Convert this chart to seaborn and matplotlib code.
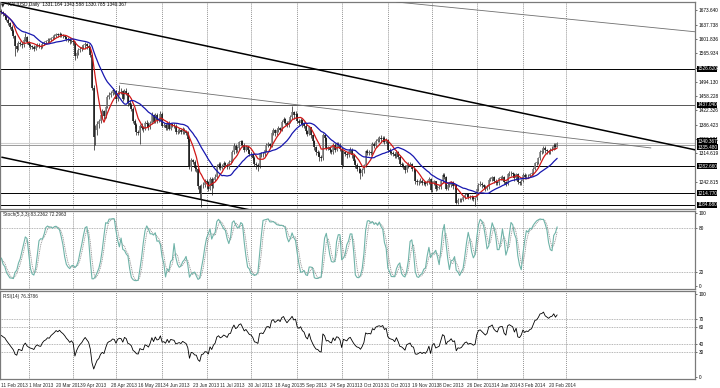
import numpy as np
import pandas as pd
import matplotlib
matplotlib.use("Agg")
import matplotlib.pyplot as plt
import matplotlib.transforms as mtransforms
import seaborn as sns

# ==========================
# Data (XAUUSD daily bars)
# ==========================

first_open = 1672

close = [1669, 1664, 1660, 1650, 1641, 1632, 1622, 1610, 1585, 1578, 1593, 1590,
         1586, 1600, 1606, 1594, 1588, 1584, 1582, 1578, 1585, 1588, 1584, 1583,
         1590, 1594, 1596, 1600, 1599, 1604, 1607, 1610, 1614, 1612, 1615, 1612,
         1610, 1607, 1603, 1600, 1596, 1598, 1594, 1560, 1568, 1574, 1578, 1581,
         1586, 1590, 1585, 1580, 1562, 1478, 1355, 1372, 1388, 1395, 1412, 1420,
         1408, 1432, 1455, 1462, 1465, 1474, 1472, 1450, 1467, 1472, 1470, 1452,
         1472, 1466, 1440, 1436, 1426, 1395, 1385, 1368, 1366, 1384, 1378, 1376,
         1392, 1388, 1380, 1392, 1412, 1394, 1412, 1398, 1400, 1414, 1384, 1386,
         1378, 1392, 1376, 1388, 1386, 1384, 1368, 1370, 1372, 1368, 1374, 1370,
         1366, 1350, 1280, 1298, 1294, 1278, 1276, 1232, 1212, 1234, 1236, 1244,
         1242, 1226, 1250, 1232, 1248, 1256, 1282, 1288, 1278, 1282, 1290, 1286,
         1280, 1294, 1296, 1318, 1334, 1322, 1328, 1342, 1346, 1336, 1324, 1330,
         1322, 1314, 1312, 1304, 1288, 1286, 1282, 1312, 1314, 1312, 1322, 1336,
         1338, 1334, 1366, 1372, 1365, 1372, 1378, 1374, 1394, 1400, 1392, 1386,
         1396, 1405, 1418, 1410, 1414, 1396, 1392, 1398, 1388, 1384, 1370, 1364,
         1380, 1360, 1345, 1330, 1318, 1316, 1306, 1302, 1360, 1352, 1328, 1330,
         1322, 1318, 1336, 1324, 1338, 1336, 1326, 1286, 1318, 1314, 1310, 1320,
         1324, 1310, 1296, 1284, 1276, 1274, 1264, 1272, 1284, 1320, 1316, 1318,
         1316, 1338, 1334, 1346, 1350, 1352, 1350, 1354, 1344, 1348, 1324, 1318,
         1316, 1314, 1308, 1318, 1306, 1288, 1286, 1280, 1272, 1284, 1286, 1288,
         1276, 1274, 1244, 1242, 1244, 1246, 1240, 1242, 1238, 1242, 1250, 1222,
         1240, 1244, 1226, 1228, 1230, 1244, 1260, 1256, 1226, 1234, 1236, 1242,
         1232, 1234, 1190, 1198, 1196, 1198, 1204, 1210, 1212, 1204, 1206, 1204,
         1200, 1202, 1224, 1236, 1238, 1234, 1230, 1226, 1230, 1248, 1250, 1254,
         1246, 1242, 1240, 1252, 1254, 1254, 1242, 1238, 1262, 1266, 1264, 1262,
         1252, 1262, 1242, 1240, 1246, 1260, 1254, 1258, 1257, 1262, 1264, 1276,
         1290, 1292, 1302, 1318, 1320, 1328, 1322, 1320, 1318, 1324, 1326, 1336,
         1331.164, 1340.367]

high = [1677, 1672, 1668, 1663, 1654, 1645, 1636, 1626, 1613, 1592, 1598, 1597,
        1594, 1604, 1618, 1609, 1598, 1592, 1588, 1586, 1589, 1592, 1591, 1588,
        1594, 1598, 1600, 1604, 1605, 1608, 1611, 1614, 1618, 1617, 1620, 1618,
        1615, 1613, 1610, 1606, 1604, 1603, 1601, 1596, 1573, 1580, 1583, 1587,
        1590, 1594, 1593, 1590, 1584, 1565, 1486, 1386, 1396, 1402, 1421, 1426,
        1424, 1436, 1460, 1469, 1470, 1478, 1477, 1474, 1470, 1487, 1478, 1473,
        1476, 1478, 1469, 1448, 1440, 1430, 1400, 1390, 1372, 1388, 1392, 1384,
        1396, 1398, 1394, 1396, 1418, 1414, 1416, 1416, 1404, 1420, 1418, 1392,
        1390, 1396, 1395, 1392, 1392, 1390, 1388, 1376, 1378, 1376, 1380, 1378,
        1374, 1370, 1352, 1302, 1300, 1298, 1286, 1280, 1236, 1238, 1242, 1250,
        1250, 1246, 1256, 1254, 1252, 1262, 1288, 1294, 1292, 1288, 1296, 1294,
        1290, 1298, 1300, 1322, 1340, 1338, 1334, 1346, 1348, 1348, 1340, 1336,
        1334, 1326, 1318, 1316, 1308, 1292, 1290, 1316, 1318, 1318, 1326, 1340,
        1342, 1340, 1370, 1378, 1376, 1377, 1384, 1382, 1398, 1406, 1404, 1396,
        1400, 1412, 1434, 1422, 1420, 1416, 1400, 1404, 1402, 1394, 1388, 1374,
        1384, 1382, 1364, 1348, 1334, 1322, 1320, 1310, 1366, 1364, 1356, 1334,
        1334, 1326, 1340, 1340, 1342, 1342, 1340, 1330, 1322, 1320, 1318, 1326,
        1330, 1328, 1314, 1300, 1290, 1282, 1278, 1278, 1288, 1324, 1326, 1322,
        1322, 1342, 1344, 1350, 1356, 1358, 1361, 1358, 1358, 1352, 1350, 1328,
        1322, 1320, 1318, 1322, 1320, 1310, 1292, 1290, 1284, 1288, 1292, 1294,
        1290, 1280, 1276, 1250, 1248, 1252, 1250, 1246, 1246, 1248, 1256, 1252,
        1244, 1248, 1246, 1234, 1234, 1248, 1264, 1266, 1258, 1240, 1240, 1246,
        1246, 1238, 1238, 1202, 1202, 1202, 1208, 1214, 1216, 1216, 1210, 1210,
        1208, 1206, 1228, 1240, 1244, 1242, 1238, 1234, 1236, 1252, 1256, 1258,
        1258, 1250, 1246, 1256, 1258, 1260, 1258, 1246, 1266, 1270, 1270, 1268,
        1266, 1266, 1264, 1246, 1250, 1264, 1264, 1262, 1262, 1266, 1268, 1280,
        1294, 1296, 1306, 1322, 1326, 1332, 1334, 1326, 1324, 1328, 1332, 1340,
        1340, 1343.588]

low = [1664, 1660, 1655, 1646, 1636, 1628, 1616, 1604, 1558, 1570, 1575, 1585,
       1580, 1583, 1596, 1590, 1582, 1578, 1576, 1572, 1575, 1581, 1579, 1578,
       1580, 1586, 1590, 1592, 1594, 1596, 1600, 1603, 1606, 1607, 1608, 1606,
       1604, 1601, 1598, 1594, 1590, 1592, 1588, 1548, 1553, 1563, 1570, 1572,
       1576, 1580, 1578, 1574, 1556, 1474, 1322, 1335, 1360, 1378, 1390, 1404,
       1400, 1404, 1428, 1450, 1456, 1460, 1464, 1442, 1446, 1462, 1464, 1446,
       1450, 1460, 1434, 1430, 1420, 1390, 1378, 1360, 1360, 1338, 1372, 1368,
       1372, 1382, 1374, 1376, 1388, 1390, 1390, 1392, 1394, 1396, 1380, 1380,
       1372, 1374, 1372, 1372, 1380, 1378, 1362, 1364, 1366, 1362, 1364, 1364,
       1360, 1342, 1274, 1270, 1288, 1270, 1268, 1224, 1200, 1180, 1228, 1230,
       1236, 1220, 1222, 1210, 1228, 1244, 1252, 1276, 1272, 1274, 1278, 1280,
       1276, 1276, 1288, 1292, 1314, 1316, 1318, 1324, 1336, 1330, 1318, 1320,
       1316, 1308, 1306, 1298, 1282, 1276, 1270, 1278, 1306, 1306, 1308, 1318,
       1330, 1328, 1330, 1360, 1358, 1360, 1368, 1368, 1370, 1390, 1386, 1380,
       1382, 1392, 1400, 1402, 1406, 1390, 1386, 1388, 1382, 1378, 1364, 1358,
       1360, 1354, 1340, 1324, 1310, 1308, 1296, 1296, 1298, 1346, 1322, 1322,
       1316, 1312, 1314, 1318, 1320, 1330, 1320, 1278, 1282, 1308, 1304, 1306,
       1316, 1304, 1290, 1278, 1270, 1266, 1251, 1258, 1266, 1280, 1310, 1310,
       1310, 1312, 1328, 1330, 1342, 1344, 1344, 1344, 1338, 1340, 1318, 1312,
       1310, 1308, 1302, 1304, 1300, 1282, 1280, 1274, 1266, 1268, 1278, 1282,
       1270, 1268, 1238, 1236, 1236, 1240, 1234, 1236, 1232, 1234, 1238, 1218,
       1218, 1234, 1220, 1222, 1224, 1226, 1240, 1250, 1222, 1222, 1230, 1230,
       1226, 1226, 1186, 1186, 1192, 1192, 1194, 1200, 1206, 1200, 1200, 1198,
       1194, 1182, 1198, 1220, 1232, 1228, 1224, 1220, 1222, 1226, 1244, 1246,
       1240, 1236, 1234, 1236, 1248, 1248, 1238, 1232, 1234, 1258, 1258, 1256,
       1246, 1248, 1238, 1234, 1236, 1242, 1250, 1250, 1252, 1254, 1258, 1260,
       1272, 1284, 1288, 1298, 1312, 1316, 1316, 1314, 1312, 1314, 1320, 1322,
       1326, 1330.785]

date_labels = ["11 Feb 2013", "1 Mar 2013", "20 Mar 2013", "9 Apr 2013", "28 Apr 2013",
               "16 May 2013", "4 Jun 2013", "23 Jun 2013", "11 Jul 2013", "30 Jul 2013",
               "18 Aug 2013", "5 Sep 2013", "24 Sep 2013", "13 Oct 2013", "31 Oct 2013",
               "19 Nov 2013", "8 Dec 2013", "26 Dec 2013", "14 Jan 2014", "3 Feb 2014",
               "20 Feb 2014"]
date_every = 16

# first bar of each month (period separators)
month_starts = [16, 42, 67, 94, 120, 146, 173, 199, 226, 252, 278, 305, 330]

price_ticks = ["1673.640", "1637.738", "1601.836", "1565.934", "1530.032", "1494.130",
               "1458.228", "1422.326", "1386.423", "1350.521", "1314.619", "1242.815"]

# horizontal lines drawn on the chart, with their price boxes
h_levels = [1526.62, 1437.04, 1335.48, 1282.66, 1214.77, 1184.68]
h_colors = ["black", "#555555", "#9a9a9a", "black", "black", "black"]

# trend lines as (bar, price) end points
trend_upper = [(0, 1694), (406, 1323)]
trend_lower = [(0, 1305), (150, 1168)]
trend_thin = [(69, 1491), (380, 1328)]
trend_top = [(231, 1695), (406, 1620)]

# ==========================
# Indicators
# ==========================

df = pd.DataFrame({"close": close, "high": high, "low": low})
df["open"] = [first_open] + close[:-1]
df["high"] = df[["high", "open", "close"]].max(axis=1)
df["low"] = df[["low", "open", "close"]].min(axis=1)
df["bar"] = np.arange(len(df))

df["ma_fast"] = df["close"].rolling(7, min_periods=1).mean()
df["ma_slow"] = df["close"].rolling(20, min_periods=1).mean()

hh = df["high"].rolling(5, min_periods=1).max()
ll = df["low"].rolling(5, min_periods=1).min()
df["stoch"] = 100 * (df["close"] - ll).rolling(3, min_periods=1).sum() / \
    (hh - ll).rolling(3, min_periods=1).sum()
df["stoch_sig"] = df["stoch"].rolling(3, min_periods=1).mean()

# Wilder RSI, started from a neutral average move
diff = df["close"].diff().fillna(0).to_numpy()
avg_gain, avg_loss = 6.0, 6.0
rsi = []
for d in diff:
    avg_gain = (avg_gain * 13 + max(d, 0)) / 14
    avg_loss = (avg_loss * 13 + max(-d, 0)) / 14
    rsi.append(100 - 100 / (1 + avg_gain / avg_loss))
df["rsi"] = rsi

# ==========================
# Figure
# ==========================

sns.set_style("white")
plt.rcParams["font.family"] = ["Liberation Sans", "DejaVu Sans"]

fig = plt.figure(figsize=(7.2, 3.88), dpi=100)
W, H = 720.0, 388.0

def panel(top, bottom):
    return fig.add_axes([0, 1 - bottom / H, 695 / W, (bottom - top) / H])

ax = panel(2, 209)
ax_st = panel(211, 289)
ax_rsi = panel(291, 379)

fs = 3.4
xlim = (-0.8, 405.6)

for a in (ax, ax_st, ax_rsi):
    a.set_xlim(*xlim)
    for s in a.spines.values():
        s.set_color("#7a7a7a")
        s.set_linewidth(0.9)
    a.yaxis.tick_right()
    a.tick_params(axis="y", length=1.5, width=0.4, labelsize=fs, pad=1, colors="black")
    a.tick_params(axis="x", length=0)
    a.set_xticks([])
    for m in month_starts:
        a.axvline(m, color="#555555", lw=0.5, ls=(0, (1.2, 1.6)), zorder=1)

# main price panel
ax.set_ylim(1174.6, 1695.0)
ax.set_yticks([float(t) for t in price_ticks])
ax.set_yticklabels(price_ticks)

for lvl, col in zip(h_levels, h_colors):
    ax.axhline(lvl, color=col, lw=0.7, zorder=2)
ax.axhline(close[-1], color="#cfcfcf", lw=0.8, zorder=2)

for pts, col, lw in [(trend_upper, "black", 1.1), (trend_lower, "black", 1.1),
                     (trend_thin, "#6f6f6f", 0.6), (trend_top, "#6f6f6f", 0.6)]:
    (x0, y0), (x1, y1) = pts
    ax.plot([x0, x1], [y0, y1], color=col, lw=lw, zorder=3, solid_capstyle="butt")

up = df["close"] >= df["open"]
ax.vlines(df["bar"], df["low"], df["high"], color="#1a1a1a", lw=0.5, zorder=4)
ax.vlines(df["bar"][up], df["open"][up], df["close"][up], color="#7a7a7a", lw=1.1, zorder=5)
ax.vlines(df["bar"][~up], df["close"][~up], df["open"][~up], color="#111111", lw=1.1, zorder=5)

sns.lineplot(data=df, x="bar", y="ma_fast", color="#d01818", lw=0.9, ax=ax, zorder=6)
sns.lineplot(data=df, x="bar", y="ma_slow", color="#1818b0", lw=0.9, ax=ax, zorder=6)
ax.set_xlabel("")
ax.set_ylabel("")
ax.set_xlim(*xlim)

trans = mtransforms.blended_transform_factory(ax.transAxes, ax.transData)
box_values = h_levels[:2] + [close[-1]] + h_levels[2:]
box_offsets = [0, 0, 4.0, -6.0, 0, 0, 0]
for v, off in zip(box_values, box_offsets):
    ax.text(1.003, v + off, f"{v:.3f}", transform=trans, fontsize=fs, color="white",
            va="center", ha="left", clip_on=False, zorder=10,
            bbox=dict(boxstyle="square,pad=0.1", fc="black", ec="none"))

ax.text(0.002, 0.986, "\u25bc", transform=ax.transAxes, fontsize=fs,
        va="center", ha="left", family=["DejaVu Sans"])
ax.text(0.011, 0.986, "XAUUSD,Daily  1331.164 1343.588 1330.785 1340.367",
        transform=ax.transAxes, fontsize=fs, va="center", ha="left", color="black")

# stochastic panel
ax_st.set_ylim(-4, 103)
ax_st.set_yticks([0, 20, 80, 100])
ax_st.set_yticklabels(["0", "20", "80", "100"])
for lvl in (20, 80):
    ax_st.axhline(lvl, color="#8c8c8c", lw=0.5, ls=(0, (1.2, 1.2)), zorder=2)
sns.lineplot(data=df, x="bar", y="stoch", color="#6fb3a8", lw=0.8, ax=ax_st, zorder=4)
sns.lineplot(data=df, x="bar", y="stoch_sig", color="#8a8a8a", lw=0.6,
             ls=(0, (1.2, 1.0)), ax=ax_st, zorder=3)
ax_st.set_xlabel("")
ax_st.set_ylabel("")
ax_st.set_xlim(*xlim)
ax_st.text(0.004, 0.95, "Stoch(5,3,3) 83.2362 72.2963", transform=ax_st.transAxes,
           fontsize=fs, va="center", ha="left")

# RSI panel
ax_rsi.set_ylim(-2.5, 103.5)
ax_rsi.set_yticks([0, 30, 40, 60, 70, 100])
ax_rsi.set_yticklabels(["0", "30", "40", "60", "70", "100"])
for lvl in (30, 40, 60, 70):
    ax_rsi.axhline(lvl, color="#8c8c8c", lw=0.5, ls=(0, (1.2, 1.2)), zorder=2)
sns.lineplot(data=df, x="bar", y="rsi", color="black", lw=0.6, ax=ax_rsi, zorder=4)
ax_rsi.set_xlabel("")
ax_rsi.set_ylabel("")
ax_rsi.set_xlim(*xlim)
ax_rsi.text(0.004, 0.943, "RSI(14) 76.3786", transform=ax_rsi.transAxes,
            fontsize=fs, va="center", ha="left")

ax_rsi.set_xticks([i * date_every for i in range(len(date_labels))])
ax_rsi.set_xticklabels(date_labels, ha="left")
ax_rsi.tick_params(axis="x", length=1.5, width=0.4, labelsize=fs, pad=1.2)

fig.savefig("out.png", dpi=100)
